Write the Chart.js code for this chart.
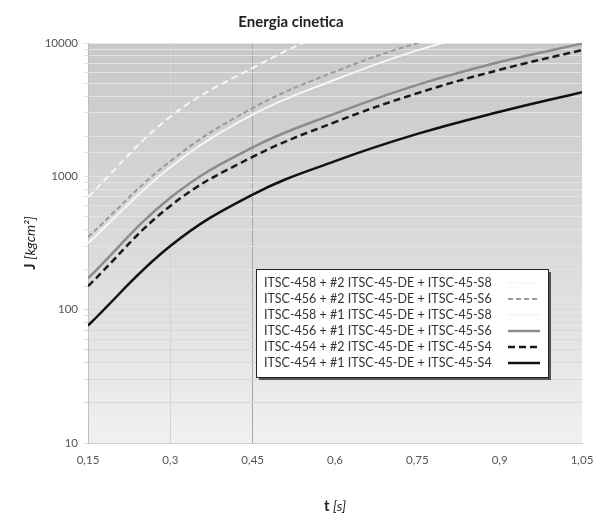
<!DOCTYPE html>
<html>
<head>
<meta charset="utf-8">
<script src="https://cdn.jsdelivr.net/npm/chart.js@4.4.0/dist/chart.umd.min.js"></script>
<style>
    body { margin: 0; background: #ffffff; }
    #wrap { width: 612px; height: 521px; }
</style>
</head>
<body>
<div id="wrap"><canvas id="chart"></canvas></div>
<script>
// t [s]
let times = [0.15, 0.3, 0.45, 0.6, 0.75, 0.9, 1.05]
let xTicks = [0.15, 0.3, 0.45, 0.6, 0.75, 0.9, 1.05]
let xTickLabels = ['0,15', '0,3', '0,45', '0,6', '0,75', '0,9', '1,05']

// J [kgcm2]
let j458_2 = [700, 2800, 6500, 12500, 19000, 26000, 34000]
let j456_2 = [350, 1300, 3250, 6100, 10000, 14400, 19800]
let j458_1 = [315, 1170, 2900, 5300, 8800, 12800, 17600]
let j456_1 = [172, 690, 1650, 2950, 4850, 7200, 9900]
let j454_2 = [150, 600, 1400, 2550, 4200, 6300, 8860]
let j454_1 = [76, 300, 730, 1300, 2080, 3050, 4280]

let seriesLabels = [
    'ITSC-458 + #2 ITSC-45-DE + ITSC-45-S8',
    'ITSC-456 + #2 ITSC-45-DE + ITSC-45-S6',
    'ITSC-458 + #1 ITSC-45-DE + ITSC-45-S8',
    'ITSC-456 + #1 ITSC-45-DE + ITSC-45-S6',
    'ITSC-454 + #2 ITSC-45-DE + ITSC-45-S4',
    'ITSC-454 + #1 ITSC-45-DE + ITSC-45-S4'
]

const FONT = 'Lato, "Open Sans", sans-serif'

function pts(values) {
    return times.map((t, i) => ({ x: t, y: values[i] }))
}

function line(label, values, color, width, dash) {
    return {
        label: label,
        data: pts(values),
        borderColor: color,
        borderWidth: width,
        borderDash: dash,
        pointRadius: 0,
        fill: false,
        tension: 0.4
    }
}

const data = {
    datasets: [
        line(seriesLabels[0], j458_2, '#f6f6f6', 2, [7, 4]),
        line(seriesLabels[1], j456_2, '#9a9a9a', 2, [5, 3]),
        line(seriesLabels[2], j458_1, '#f6f6f6', 2, []),
        line(seriesLabels[3], j456_1, '#8c8c8c', 2.5, []),
        line(seriesLabels[4], j454_2, '#1a1a1a', 2.5, [7, 4]),
        line(seriesLabels[5], j454_1, '#111111', 2.5, [])
    ]
}

// gradient behind the plot
const plotBackground = {
    id: 'plotBackground',
    beforeDraw(chart) {
        const { ctx, chartArea: a } = chart
        let g = ctx.createLinearGradient(0, a.top, 0, a.bottom)
        g.addColorStop(0, '#c8c8c8')
        g.addColorStop(0.5, '#dadada')
        g.addColorStop(1, '#f0f0f0')
        ctx.save()
        ctx.fillStyle = g
        ctx.fillRect(a.left, a.top, a.right - a.left, a.bottom - a.top)
        ctx.restore()
    }
}

// axis titles with bold + italic parts, and the boxed legend
const extras = {
    id: 'extras',
    afterDraw(chart) {
        const { ctx, chartArea: a } = chart
        ctx.save()

        // x title
        ctx.fillStyle = '#222'
        ctx.textBaseline = 'middle'
        let bold = 'bold 15px ' + FONT
        let ital = 'italic 14px ' + FONT
        ctx.font = bold
        let w1 = ctx.measureText('t ').width
        ctx.font = ital
        let w2 = ctx.measureText('[s]').width
        let cx = (a.left + a.right) / 2 - (w1 + w2) / 2
        ctx.textAlign = 'left'
        ctx.font = bold
        ctx.fillText('t ', cx, 506)
        ctx.font = ital
        ctx.fillText('[s]', cx + w1, 506)

        // y title, rotated
        ctx.translate(30, (a.top + a.bottom) / 2)
        ctx.rotate(-Math.PI / 2)
        ctx.font = bold
        w1 = ctx.measureText('J ').width
        ctx.font = ital
        w2 = ctx.measureText('[kgcm²]').width
        cx = -(w1 + w2) / 2
        ctx.font = bold
        ctx.fillText('J ', cx, 0)
        ctx.font = ital
        ctx.fillText('[kgcm²]', cx + w1, 0)
        ctx.restore()

        // legend box
        let lx = 256, ly = 269, lw = 292, lh = 108
        ctx.save()
        ctx.fillStyle = '#555'
        ctx.fillRect(lx + 3, ly + 3, lw, lh)
        ctx.fillStyle = '#ffffff'
        ctx.fillRect(lx, ly, lw, lh)
        ctx.strokeStyle = '#222'
        ctx.lineWidth = 1
        ctx.strokeRect(lx + 0.5, ly + 0.5, lw, lh)
        ctx.font = '12.5px ' + FONT
        ctx.textBaseline = 'middle'
        ctx.textAlign = 'left'
        chart.data.datasets.forEach((ds, i) => {
            let y = ly + 14 + i * 16
            ctx.fillStyle = '#333'
            ctx.fillText(ds.label, lx + 8, y)
            ctx.strokeStyle = ds.borderColor
            ctx.lineWidth = ds.borderWidth
            ctx.setLineDash(ds.borderDash)
            ctx.beginPath()
            ctx.moveTo(lx + 252, y)
            ctx.lineTo(lx + 284, y)
            ctx.stroke()
        })
        ctx.restore()
    }
}

const config = {
    type: 'line',
    data: data,
    options: {
        responsive: true,
        maintainAspectRatio: false,
        animation: false,
        layout: {
            padding: { left: 0, right: 30, top: 0, bottom: 0 }
        },
        plugins: {
            legend: { display: false },
            tooltip: { enabled: false },
            title: {
                display: true,
                text: 'Energia cinetica',
                color: '#222',
                font: { family: FONT, size: 15, weight: 'bold' },
                padding: { top: 13, bottom: 12 }
            }
        },
        scales: {
            x: {
                type: 'linear',
                min: 0.15,
                max: 1.05,
                afterBuildTicks: scale => {
                    scale.ticks = xTicks.map(v => ({ value: v }))
                },
                afterFit: scale => {
                    scale.height = 78
                },
                ticks: {
                    color: '#555',
                    font: { family: FONT, size: 11.5 },
                    padding: 10,
                    maxRotation: 0,
                    autoSkip: false,
                    callback: (value, index) => xTickLabels[index]
                },
                grid: {
                    drawTicks: false,
                    color: ctx => {
                        let v = ctx.tick ? ctx.tick.value : null
                        if (v === 0.45) return '#a8a8a8'
                        if (v === 0.3) return '#d4d4d4'
                        return 'rgba(0,0,0,0)'
                    }
                },
                border: { display: true, color: '#d0d0d0' }
            },
            y: {
                type: 'logarithmic',
                min: 10,
                max: 10000,
                afterFit: scale => {
                    scale.width = 88
                },
                ticks: {
                    color: '#555',
                    font: { family: FONT, size: 11.5 },
                    padding: 6,
                    autoSkip: false,
                    callback: value => {
                        let p = Math.log10(value)
                        return Math.abs(p - Math.round(p)) < 1e-9 ? String(value) : ''
                    }
                },
                grid: {
                    tickLength: 4,
                    color: ctx => {
                        let v = ctx.tick ? ctx.tick.value : 0
                        return v > 150 ? '#e4e4e4' : '#d8d8d8'
                    }
                },
                border: { display: true, color: '#c0c0c0' }
            }
        }
    },
    plugins: [plotBackground, extras]
}

let myChart = new Chart(
    document.getElementById('chart'),
    config
)
</script>
</body>
</html>
